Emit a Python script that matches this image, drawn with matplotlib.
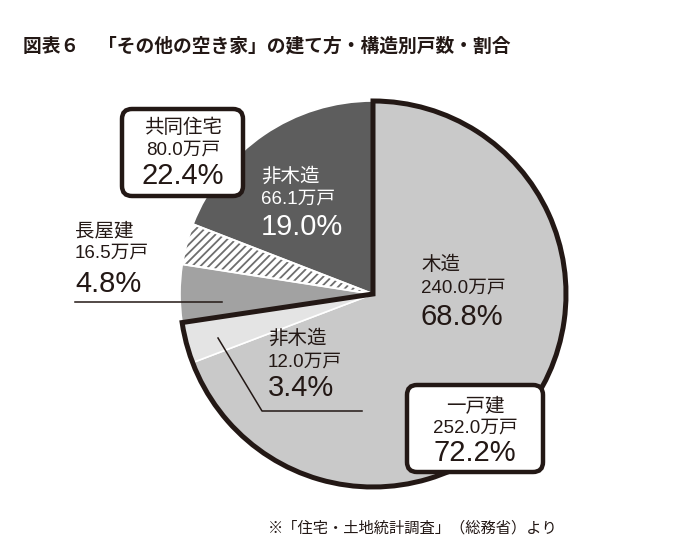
import matplotlib.pyplot as plt
from matplotlib.patches import Wedge, FancyBboxPatch

# shares (%) clockwise from 12 o'clock
slices = ['一戸建・木造', '一戸建・非木造', '長屋建', '共同住宅・木造', '共同住宅・非木造']
shares = [68.8, 3.4, 4.8, 3.4, 19.0]
colors = ['#c9c9c9', '#e4e4e4', '#a2a2a2', '#ffffff', '#5d5d5d']

group_share = 72.2  # 一戸建

INK = '#231815'
LAB = ['Liberation Sans', 'Noto Sans CJK JP']
H = 560

plt.rcParams['hatch.linewidth'] = 1.3

fig = plt.figure(figsize=(7, 5.6), dpi=100)
ax = fig.add_axes([0, 0, 1, 1])

cx, cy, r = 373, H - 294, 193
wedges, _ = ax.pie(shares, colors=colors, startangle=90, counterclock=False,
                   center=(cx, cy), radius=r,
                   wedgeprops=dict(edgecolor='white', linewidth=1.2))
wedges[3].set_hatch('////')
wedges[3].set_edgecolor('#6e6e6e')
wedges[3].set_linewidth(0)
ax.add_patch(Wedge((cx, cy), r, wedges[3].theta1, wedges[3].theta2,
                   fill=False, ec='white', lw=1.5))

# thick outline round the detached-house part
t1 = 90 - group_share / sum(shares) * 360
ax.add_patch(Wedge((cx, cy), r, t1, 90, fill=False, ec=INK, lw=3.6,
                   joinstyle='miter', zorder=5))

ax.set_xlim(0, 700)
ax.set_ylim(0, H)
ax.axis('off')


def label(x, y, lines, color=INK, ha='left'):
    sizes = [14, 13.5, 21]
    for (yy, s), fs in zip(zip(y, lines), sizes):
        ax.text(x, H - yy, s, fontsize=fs, color=color, ha=ha, va='center',
                family=LAB, zorder=7)


def box(x0, y0, x1, y1):
    ax.add_patch(FancyBboxPatch((x0, H - y1), x1 - x0, y1 - y0,
                                boxstyle='round,pad=0,rounding_size=10',
                                fc='white', ec=INK, lw=3.2, zorder=6))


box(122, 109, 243, 196)
label(183, [128, 150, 176], ['共同住宅', '80.0万戸', '22.4%'], ha='center')

box(407, 385, 543, 472)
label(475, [407, 428, 453], ['一戸建', '252.0万戸', '72.2%'], ha='center')

label(261, [177, 199, 227], ['非木造', '66.1万戸', '19.0%'], color='white')
label(75, [232, 253, 284], ['長屋建', '16.5万戸', '4.8%'])
label(268, [339, 362, 388], ['非木造', '12.0万戸', '3.4%'])
label(421, [265, 288, 317], ['木造', '240.0万戸', '68.8%'])

# leader lines
ax.plot([75, 222], [H - 302, H - 302], color=INK, lw=1.1)
ax.plot([218, 262, 362], [H - 338, H - 411, H - 411], color=INK, lw=1.1)

ax.text(23, H - 46, '図表６　「その他の空き家」の建て方・構造別戸数・割合',
        fontsize=13.5, fontweight='bold', color=INK, va='center',
        family=['Noto Sans CJK JP', 'DejaVu Sans'])
ax.text(558, H - 528, '※「住宅・土地統計調査」（総務省）より', fontsize=11,
        color=INK, ha='right', va='center', family=['Noto Sans CJK JP'])

fig.savefig('out.png', dpi=100)
